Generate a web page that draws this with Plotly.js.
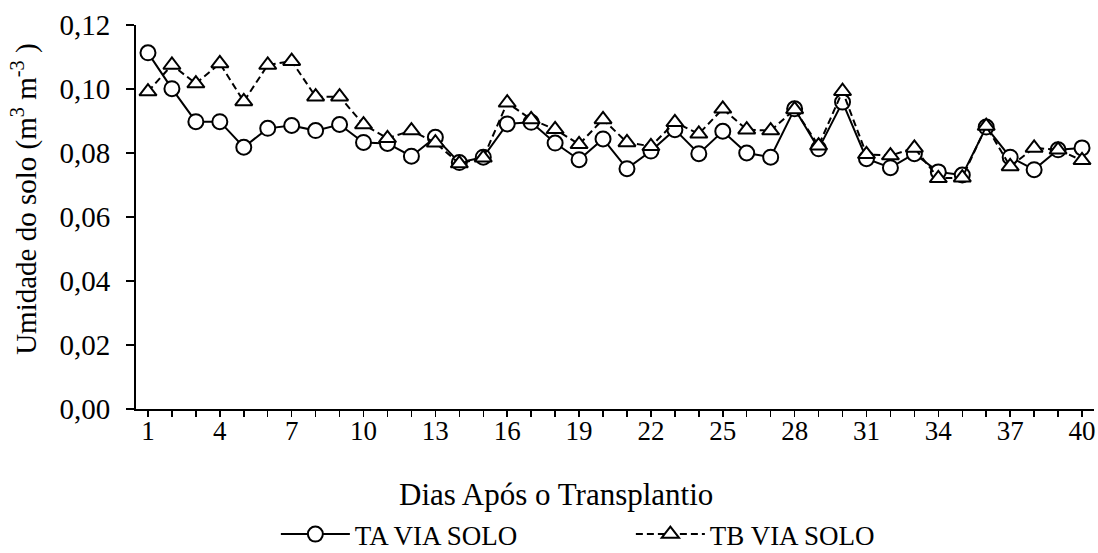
<!DOCTYPE html>
<html>
<head>
<meta charset="utf-8">
<script src="https://cdn.plot.ly/plotly-3.0.1.min.js"></script>
<style>html,body{margin:0;padding:0;background:#fff;}#chart{width:1098px;height:553px;}</style>
</head>
<body>
<div id="chart"></div>
<script>
const days = Array.from({length: 40}, (_, i) => i + 1);
const taViaSolo = [0.1113,0.1001,0.0898,0.0898,0.0818,0.0877,0.0886,0.0870,0.0889,0.0833,
                   0.0830,0.0790,0.0849,0.0770,0.0787,0.0891,0.0896,0.0831,0.0779,0.0844,
                   0.0751,0.0806,0.0873,0.0798,0.0868,0.0800,0.0787,0.0938,0.0813,0.0959,
                   0.0782,0.0754,0.0798,0.0741,0.0731,0.0881,0.0787,0.0748,0.0810,0.0816];
const tbViaSolo = [0.0992,0.1075,0.1017,0.1080,0.0961,0.1075,0.1087,0.0976,0.0976,0.0889,
                   0.0846,0.0870,0.0832,0.0767,0.0785,0.0957,0.0905,0.0874,0.0827,0.0905,
                   0.0833,0.0821,0.0896,0.0860,0.0938,0.0873,0.0870,0.0936,0.0823,0.0993,
                   0.0796,0.0792,0.0816,0.0721,0.0723,0.0884,0.0758,0.0816,0.0810,0.0777];
const yTicks = [0,0.02,0.04,0.06,0.08,0.10,0.12];
const yTickText = ['0,00','0,02','0,04','0,06','0,08','0,10','0,12'];
const xTitle = 'Dias Após o Transplantio';
const yTitle = 'Umidade do solo (m<sup>3</sup> m<sup>-3</sup> )';

const FONT = '"Liberation Serif", "Times New Roman", Times, serif';

const traces = [
  {x: days, y: taViaSolo, name: 'TA VIA SOLO', type: 'scatter', mode: 'lines+markers',
   line: {color: '#000', width: 2},
   marker: {symbol: 'circle', size: 15, color: '#fff', line: {color: '#000', width: 2}}},
  {x: days, y: tbViaSolo, name: 'TB VIA SOLO', type: 'scatter', mode: 'lines+markers',
   line: {color: '#000', width: 2, dash: '7px,4px'},
   marker: {symbol: 'triangle-up', size: 15, color: '#fff', line: {color: '#000', width: 2}}}
];

const layout = {
  width: 1098, height: 553,
  margin: {l: 136, r: 4, t: 25, b: 144, autoexpand: false},
  paper_bgcolor: '#fff', plot_bgcolor: '#fff',
  font: {family: FONT, size: 26, color: '#000'},
  showlegend: true,
  legend: {orientation: 'h', x: 0.146, xanchor: 'left', y: -0.327, yanchor: 'middle',
           font: {family: FONT, size: 27, color: '#000'}, itemwidth: 69,
           entrywidth: 271, entrywidthmode: 'pixels', traceorder: 'normal'},
  xaxis: {range: [0.5, 40.5], tickmode: 'linear', tick0: 1, dtick: 3,
          ticks: 'outside', ticklen: 6, tickwidth: 1.5, tickcolor: '#000',
          minor: {tick0: 1, dtick: 1, ticks: 'outside', ticklen: 6, tickwidth: 1.5, tickcolor: '#000', showgrid: false},
          showline: true, linecolor: '#000', linewidth: 2, showgrid: false, zeroline: false,
          tickfont: {family: FONT, size: 27}, ticklabelstandoff: -9},
  yaxis: {range: [0, 0.12], tickmode: 'array', tickvals: yTicks, ticktext: yTickText,
          ticks: 'outside', ticklen: 8, tickwidth: 1.5, tickcolor: '#000',
          showline: true, linecolor: '#000', linewidth: 2, showgrid: false, zeroline: false,
          tickfont: {family: FONT, size: 29}, ticklabelstandoff: 10},
  annotations: [
    {text: xTitle, xref: 'paper', yref: 'paper', x: 0.438, y: -0.222, xanchor: 'center', yanchor: 'middle',
     showarrow: false, font: {family: FONT, size: 31, color: '#000'}},
    {text: yTitle, xref: 'paper', yref: 'paper', x: -0.116, y: 0.547, xanchor: 'center', yanchor: 'middle',
     textangle: -90, showarrow: false, font: {family: FONT, size: 29, color: '#000'}}
  ]
};

Plotly.newPlot('chart', traces, layout, {displayModeBar: false, staticPlot: true});
</script>
</body>
</html>
